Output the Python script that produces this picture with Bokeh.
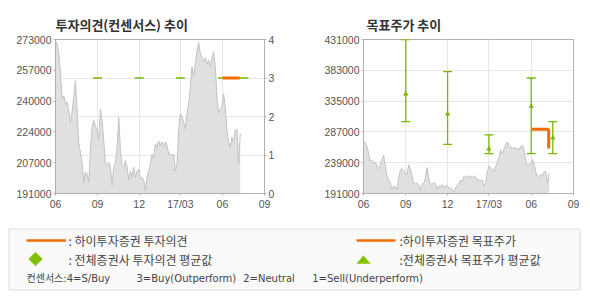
import pandas as pd
from bokeh.plotting import figure
from bokeh.models import Range1d, LinearAxis, FixedTicker
from bokeh.layouts import column, row
from bokeh.embed import file_html
from bokeh.resources import INLINE
from bokeh.core.properties import value

# ---------------- data ----------------
# stock price (roughly twice a week), 2016-06-01 .. 2017-07-10
price = [
    272500, 270500, 265500, 254500, 241500, 243000, 238500, 239500, 235000, 229000,
    234500, 242500, 251000, 235000, 217500, 213000, 207500, 197000, 202500, 201500,
    197000, 214000, 226500, 230000, 227000, 224500, 220000, 236000, 230000, 219000,
    207000, 206000, 207500, 205000, 195500, 205000, 207000, 215500, 231500, 214000,
    206000, 205000, 208500, 205000, 198000, 203000, 199500, 205000, 199500, 203000,
    204000, 199000, 199500, 198000, 192500, 199500, 203000, 207000, 212000, 209500,
    217500, 215500, 219000, 216500, 218500, 215500, 218500, 216500, 212000, 212000,
    211000, 212000, 203000, 207000, 224500, 233500, 231500, 229000, 225500, 233500,
    238500, 247500, 258500, 253000, 260000, 267000, 271500, 265500, 263500, 261000,
    263500, 260000, 262000, 258500, 263500, 266500, 258500, 242500, 233500, 236000,
    237000, 244000, 237000, 224500, 218500, 215500, 221000, 218500, 224500, 225500,
    207000, 223000,
]
price_first_date = "2016-06-01"
price_last_date = "2017-07-10"

x_tick_dates = ["2016-06-01", "2016-09-01", "2016-12-01", "2017-03-01", "2017-06-01", "2017-09-01"]
x_tick_labels = ["06", "09", "12", "17/03", "06", "09"]

left_price_min, left_price_max = 191000, 273000
left_price_tick_labels = ["191000", "207000", "224000", "240000", "257000", "273000"]
opinion_min, opinion_max = 0, 4
opinion_ticks = [0, 1, 2, 3, 4]

tp_ticks = [191000, 239000, 287000, 335000, 383000, 431000]
tp_tick_labels = ["191000", "239000", "287000", "335000", "383000", "431000"]

# consensus (all brokers)
cons_dates = ["2016-09-01", "2016-12-01", "2017-03-01", "2017-06-01", "2017-07-18"]
cons_opinion = [3, 3, 3, 3, 3]
cons_tp_avg = [346000, 315000, 260500, 327000, 277500]
cons_tp_max = [431000, 381000, 282500, 371000, 303000]
cons_tp_min = [303000, 267500, 253000, 253000, 253000]

# 하이투자증권
hi_opinion_dates = ["2017-06-01", "2017-07-09"]
hi_opinion = [3, 3]
hi_tp_dates = ["2017-06-01", "2017-07-09"]
hi_tp = [291000, 261000]

# ---------------- styling ----------------
ORANGE = "#f26c00"
GREEN = "#78b800"
GREEN_LEG = "#80c200"
GRID = "#e6e6e6"
AXIS = "#b0b0b0"
LABEL = "#555555"
AREA_FILL = "#e0e0e0"
AREA_LINE = "#c2c2c2"

pdates = pd.date_range(price_first_date, price_last_date, periods=len(price))
tick_ms = [int(pd.Timestamp(d).value // 10**6) for d in x_tick_dates]
x_over = {t: l for t, l in zip(tick_ms, x_tick_labels)}
cd = pd.to_datetime(cons_dates)


def style_axis(ax):
    ax.axis_line_color = AXIS
    ax.major_tick_line_color = AXIS
    ax.minor_tick_line_color = None
    ax.major_tick_in = 0
    ax.major_tick_out = 2
    ax.major_label_text_font = "Liberation Sans"
    ax.major_label_text_font_size = "10.5px"
    ax.major_label_text_color = LABEL
    ax.major_label_standoff = 2


def base_fig(title, ymin, ymax, left, right, title_offset):
    p = figure(width=295, height=220, output_backend="svg", toolbar_location=None,
               x_axis_type="datetime",
               x_range=Range1d(tick_ms[0], tick_ms[-1]),
               y_range=Range1d(ymin, ymax),
               min_border_left=left, min_border_right=right,
               min_border_top=39, min_border_bottom=27)
    p.title.text = title
    p.title.text_font = "Noto Sans CJK KR"
    p.title.text_font_size = "13px"
    p.title.text_font_style = "bold"
    p.title.text_color = "#333333"
    p.title.align = "left"
    p.title.offset = title_offset
    p.title.standoff = 11
    p.outline_line_color = AXIS
    p.background_fill_color = "white"
    p.border_fill_color = "white"
    p.xaxis.ticker = FixedTicker(ticks=tick_ms)
    p.xaxis.major_label_overrides = x_over
    p.xgrid.ticker = FixedTicker(ticks=tick_ms)
    p.grid.grid_line_color = GRID
    return p


# ---------------- left: 투자의견 ----------------
p1 = base_fig("투자의견(컨센서스) 추이", left_price_min, left_price_max, 55, 31, 0)
p1.extra_y_ranges = {"op": Range1d(opinion_min, opinion_max)}
step = (left_price_max - left_price_min) // (len(left_price_tick_labels) - 1)
lticks = [left_price_min + i * step for i in range(len(left_price_tick_labels))]
p1.yaxis.ticker = FixedTicker(ticks=lticks)
p1.yaxis.major_label_overrides = {t: l for t, l in zip(lticks, left_price_tick_labels)}
rax = LinearAxis(y_range_name="op", ticker=FixedTicker(ticks=opinion_ticks))
p1.add_layout(rax, "right")
p1.ygrid.y_range_name = "op"
p1.ygrid.ticker = FixedTicker(ticks=opinion_ticks)
for ax in p1.axis:
    style_axis(ax)

p1.varea(x=pdates, y1=left_price_min, y2=price, fill_color=AREA_FILL)
p1.line(x=pdates, y=price, line_color=AREA_LINE, line_width=1)
p1.scatter(x=cd, y=cons_opinion, y_range_name="op", marker="dash", size=9,
           line_color=GREEN, line_width=1.3)
p1.line(x=pd.to_datetime(hi_opinion_dates), y=hi_opinion, y_range_name="op",
        line_color=ORANGE, line_width=3)

# ---------------- right: 목표주가 ----------------
p2 = base_fig("목표주가 추이", tp_ticks[0], tp_ticks[-1], 68, 17, 3)
p2.yaxis.ticker = FixedTicker(ticks=tp_ticks)
p2.yaxis.major_label_overrides = {t: l for t, l in zip(tp_ticks, tp_tick_labels)}
p2.ygrid.ticker = FixedTicker(ticks=tp_ticks)
for ax in p2.axis:
    style_axis(ax)

p2.varea(x=pdates, y1=tp_ticks[0], y2=price, fill_color=AREA_FILL)
p2.line(x=pdates, y=price, line_color=AREA_LINE, line_width=1)
p2.segment(x0=cd, y0=cons_tp_min, x1=cd, y1=cons_tp_max, line_color=GREEN, line_width=1.3)
p2.scatter(x=cd, y=cons_tp_max, marker="dash", size=9, line_color=GREEN, line_width=1.3)
p2.scatter(x=cd, y=cons_tp_min, marker="dash", size=9, line_color=GREEN, line_width=1.3)
p2.scatter(x=cd, y=cons_tp_avg, marker="triangle", size=4.5, fill_color=GREEN, line_color=GREEN,
           line_width=0.5)
p2.step(x=pd.to_datetime(hi_tp_dates), y=hi_tp, mode="after", line_color=ORANGE, line_width=3)

# ---------------- legend ----------------
p3 = figure(width=590, height=80, output_backend="svg", toolbar_location=None,
            x_range=Range1d(0, 590), y_range=Range1d(300, 220),
            x_axis_location=None, y_axis_location=None, min_border=0)
p3.grid.visible = False
p3.outline_line_color = None
p3.quad(left=8.5, right=579.5, top=228.5, bottom=289.5, fill_color="#fafafa", line_color="#dcdcdc")
p3.segment(x0=[26, 356], y0=[240, 240], x1=[65.5, 395], y1=[240, 240], line_color=ORANGE, line_width=2.5)
p3.scatter(x=[35], y=[258.5], marker="square", angle=0.785398, size=10, fill_color=GREEN_LEG, line_color=None)
p3.patch(x=[356, 370, 363], y=[263.3, 263.3, 255], fill_color=GREEN_LEG, line_color=None)
p3.text(x=[68, 399, 68, 399], y=[240, 240, 258.5, 258.5],
        text=[": 하이투자증권 투자의견", ":하이투자증권 목표주가", ": 전체증권사 투자의견 평균값", ":전체증권사 목표주가 평균값"],
        text_font=value("Noto Sans CJK KR"), text_font_size=value("12px"),
        text_baseline="middle", text_align="left", text_color="#444444")
p3.text(x=[26, 136, 242.7, 311.7], y=[277.5] * 4,
        text=["컨센서스:4=S/Buy", "3=Buy(Outperform)", "2=Neutral", "1=Sell(Underperform)"],
        text_font=value("DejaVu Sans, Noto Sans CJK KR"), text_font_size=value("10px"),
        text_baseline="middle", text_align="left", text_color="#444444")

layout = column(row(p1, p2), p3)
open("out.html", "w").write(file_html(layout, INLINE))
